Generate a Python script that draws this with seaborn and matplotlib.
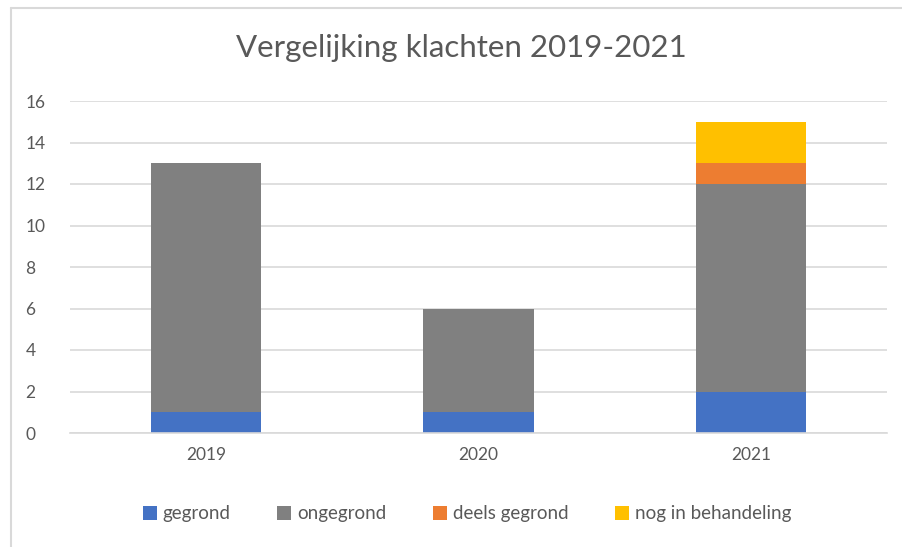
import matplotlib
matplotlib.use("Agg")
import matplotlib.pyplot as plt
import seaborn as sns
import numpy as np
from matplotlib.lines import Line2D
from matplotlib.patches import Patch

years = ["2019", "2020", "2021"]
gegrond = [1, 1, 2]
ongegrond = [12, 5, 10]
deels_gegrond = [0, 0, 1]
nog_in_behandeling = [0, 0, 2]
series_names = ["gegrond", "ongegrond", "deels gegrond", "nog in behandeling"]
colors = ["#4472C4", "#808080", "#ED7D31", "#FFC000"]
title = "Vergelijking klachten 2019-2021"
yticks = [0, 2, 4, 6, 8, 10, 12, 14, 16]

sns.set_theme(style="white")
plt.rcParams['font.family'] = ['Lato', 'DejaVu Sans']
txt = "#595959"

fig = plt.figure(figsize=(9.02, 5.47), dpi=100)
ax = fig.add_axes([70/902, 1-433/547, (887-70)/902, (433-101)/547])

series = [gegrond, ongegrond, deels_gegrond, nog_in_behandeling]
bottom = np.zeros(len(years))
for name, vals, c in zip(series_names, series, colors):
    sns.barplot(x=years, y=vals, ax=ax, color=c, width=0.405, saturation=1,
                bottom=bottom, linewidth=0)
    bottom = bottom + np.array(vals)

if ax.get_legend() is not None:
    ax.get_legend().remove()

ax.set_ylim(0, 16)
ax.set_xlim(-0.5, 2.5)
ax.set_yticks(yticks)
ax.set_yticklabels([str(v) for v in yticks])
ax.yaxis.grid(True, color="#D9D9D9", linewidth=1.2)
ax.set_axisbelow(True)
for s in ["top", "right", "left"]:
    ax.spines[s].set_visible(False)
ax.spines["bottom"].set_color("#D9D9D9")
ax.spines["bottom"].set_linewidth(1.2)
ax.tick_params(axis="both", length=0, labelsize=12.5, colors=txt, pad=10)
ax.tick_params(axis="y", pad=32)
for lab in ax.get_yticklabels():
    lab.set_horizontalalignment("left")
ax.set_xlabel("")
ax.set_ylabel("")

fig.text(461/902, 1-48/547, title, ha="center", va="center", fontsize=22.5, color=txt)

handles = [Patch(facecolor=c, edgecolor="none") for c in colors]
fig.legend(handles, series_names, loc="center", bbox_to_anchor=(467/902, 1-514/547),
           ncol=4, frameon=False, fontsize=13.5, labelcolor=txt, handlelength=0.75,
           handleheight=0.75, handletextpad=0.3, columnspacing=2.5)

# chart border (left and top)
fig.add_artist(Line2D([11/902, 11/902], [0, 1-8/547], transform=fig.transFigure, color="#D9D9D9", linewidth=1.5))
fig.add_artist(Line2D([11/902, 1], [1-8/547, 1-8/547], transform=fig.transFigure, color="#D9D9D9", linewidth=1.5))

fig.savefig("out.png", dpi=100)
